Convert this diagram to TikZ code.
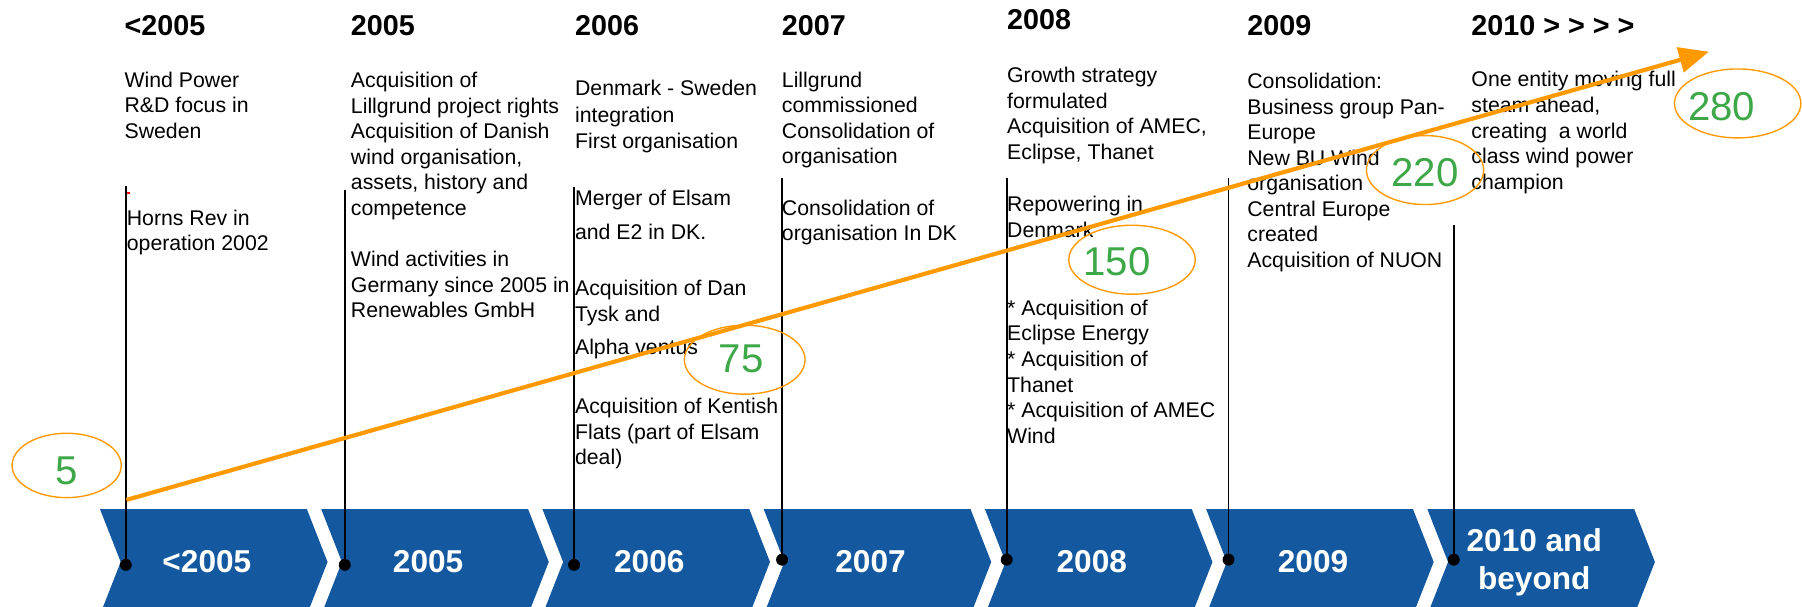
\documentclass[tikz,border=0pt]{standalone}
\usepackage{fontspec}
\setmainfont{Liberation Sans}
\usetikzlibrary{arrows.meta,shapes.geometric}
\definecolor{chevblue}{RGB}{20,89,160}
\definecolor{trendorange}{RGB}{255,153,0}
\definecolor{valgreen}{RGB}{62,168,72}
\tikzstyle{yr}=[anchor=base west, inner sep=0pt, font=\fontsize{12.5}{15}\selectfont\bfseries]
% multi-line notes are placed by the baseline of their last line
\tikzstyle{note}=[anchor=base west, inner sep=0pt, align=left, font=\fontsize{9.25}{11.1}\selectfont]
\tikzstyle{chev}=[fill=chevblue]
\tikzstyle{chevlbl}=[text=white, align=center, inner sep=0pt, font=\fontsize{13.75}{16.5}\selectfont\bfseries]
\tikzstyle{dot}=[fill=black, shape=circle, minimum size=5.2pt, inner sep=0pt]
\tikzstyle{wire}=[-, line width=0.75pt]
\tikzstyle{trend}=[-{Triangle[length=13pt,width=11pt]}, draw=trendorange, line width=1.8pt]
\tikzstyle{val}=[draw=trendorange, line width=0.6pt, shape=ellipse, minimum width=55pt, minimum height=30pt, inner sep=0pt]
\tikzstyle{num}=[text=valgreen, inner sep=0pt, font=\fontsize{17.5}{20}\selectfont]

\begin{document}
\begin{tikzpicture}[x=0.5pt, y=-0.5pt]
    \useasboundingbox (0,0) rectangle (1568,528);
    \clip (0,0) rectangle (1568,528);

    % year band
    \foreach \k/\lbl in {0/<2005, 1/2005, 2/2006, 3/2007, 4/2008, 5/2009, 6/{2010 and\\beyond}} {
        \fill [chev] ({87+192.5*\k},443) -- ++(180,0) -- ++(18,46) -- ++(-18,46)
            -- ++(-180,0) -- ++(18,-46) -- cycle;
        \node [chevlbl] (c\k) at ({180+192.5*\k},489) {\lbl};
    }

    % headings
    \node [yr] (h0) at (108,31) {<2005};
    \node [yr] (h1) at (305,31) {2005};
    \node [yr] (h2) at (500,31) {2006};
    \node [yr] (h3) at (680,31) {2007};
    \node [yr] (h4) at (876,26) {2008};
    \node [yr] (h5) at (1085,31) {2009};
    \node [yr] (h6) at (1280,31) {2010 > > > >};

    % events
    \node [note] (e0a) at (108,120.5) {Wind Power\\R\&D focus in\\Sweden};
    \node [note] (e0b) at (110,218) {Horns Rev in\\operation 2002};
    \node [fill=red, inner sep=0pt, minimum size=1.2pt] (rd) at (111.7,168) {};

    \node [note] (e1a) at (305,187.5) {Acquisition of\\Lillgrund project rights\\Acquisition of Danish\\wind organisation,\\assets, history and\\competence};
    \node [note] (e1b) at (305,276.5) {Wind activities in\\Germany since 2005 in\\Renewables GmbH};

    \node [note] (e2a) at (500,129.5) {Denmark - Sweden\\[0.4pt]integration\\[0.4pt]First organisation};
    \node [note] (e2b) at (500,208.5) {Merger of Elsam\\[3.9pt]and E2 in DK.};
    \node [note] (e2c) at (500,308.5) {Acquisition of Dan\\Tysk and\\[3.4pt]Alpha ventus};
    \node [note] (e2d) at (500,404.5) {Acquisition of Kentish\\Flats (part of Elsam\\deal)};

    \node [note] (e3a) at (680,142.5) {Lillgrund\\commissioned\\Consolidation of\\organisation};
    \node [note] (e3b) at (680,209.5) {Consolidation of\\organisation In DK};

    \node [note] (e4a) at (876,138.5) {Growth strategy\\formulated\\Acquisition of AMEC,\\Eclipse, Thanet};
    \node [note] (e4b) at (876,206.5) {Repowering in\\Denmark};
    \node [note] (e4c) at (876,385.5) {* Acquisition of\\Eclipse Energy\\* Acquisition of\\Thanet\\* Acquisition of AMEC\\Wind};

    \node [note] (e5a) at (1085,232.5) {Consolidation:\\Business group Pan-\\Europe\\New BU Wind\\organisation\\Central Europe\\created\\Acquisition of NUON};

    \node [note] (e6a) at (1280,164.5) {One entity moving full\\steam ahead,\\creating~ a world\\class wind power\\champion};

    % drop lines
    \foreach \i/\x/\t/\b in {1/109.5/162/491.5, 2/300/165/491.5, 3/499.5/163/491.5, 4/680.5/155/487,
                             5/876/155/487, 6/1069/155/487, 7/1265/196/487} {
        \coordinate (t\i) at (\x,\t);
        \node [dot] (d\i) at (\x,\b) {};
        \draw [wire] (t\i) -- (d\i.center);
    }

    % growth line
    \coordinate (g0) at (110,435);
    \coordinate (g1) at (1487,45);
    \draw [trend] (g0) -- (g1);

    \node [val, minimum width=47.5pt, minimum height=28pt] (o1) at (58,405) {};
    \node [num] (n1) at (58,410) {5};
    \node [val, minimum width=52.5pt] (o2) at (648,313) {};
    \node [num] (n2) at (645,312) {75};
    \node [val] (o3) at (985,226) {};
    \node [num] (n3) at (972,228) {150};
    \node [val, minimum width=51pt] (o4) at (1240,148) {};
    \node [num] (n4) at (1240,150) {220};
    \node [val] (o5) at (1512,90) {};
    \node [num] (n5) at (1498,93) {280};
\end{tikzpicture}
\end{document}
